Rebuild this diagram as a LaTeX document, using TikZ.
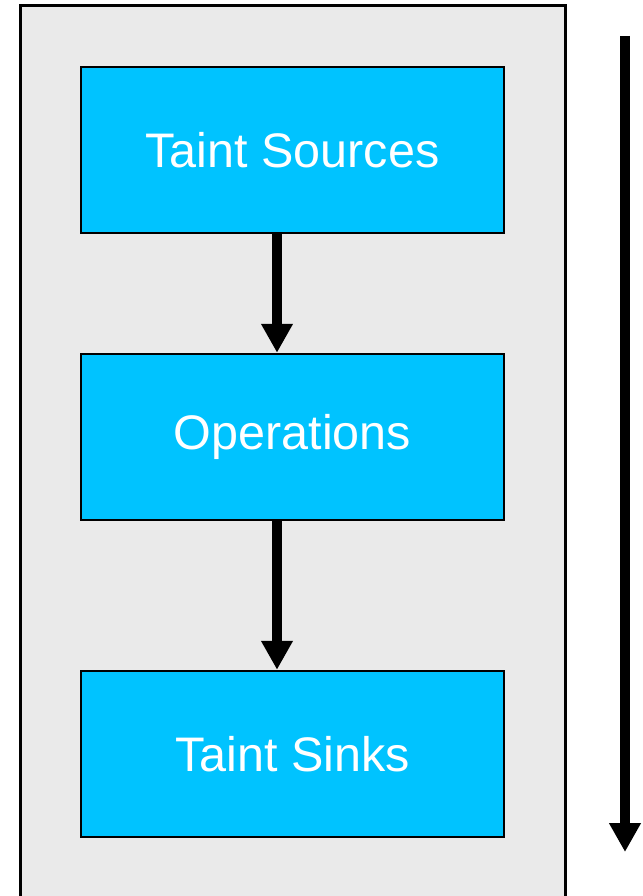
\documentclass[tikz,border=0pt]{standalone}
\usepackage{fontspec}
\setmainfont{Liberation Sans}
\usetikzlibrary{arrows.meta}
\definecolor{panelgrey}{HTML}{EAEAEA}
\definecolor{stageblue}{HTML}{00C3FF}
\newcommand{\stagelabel}[1]{\raisebox{-3pt}{#1}}
\tikzset{
  stagebox/.style={draw=black, line width=2.5pt, fill=stageblue, minimum width=423pt,
    minimum height=166pt, inner sep=0pt, text=white, font=\fontsize{48.5}{58}\selectfont},
  flowarrow/.style={line width=10pt, -{Triangle[width=30pt,length=29pt]}}
}
\begin{document}
\begin{tikzpicture}[x=1pt,y=-1pt]
  \useasboundingbox (0,0) rectangle (642,896);
  % grey panel, open at the bottom
  \begin{scope}
    \clip (0,0) rectangle (642,896);
    \filldraw[fill=panelgrey, draw=black, line width=3pt] (20,902) -- (20,6) -- (565,6) -- (565,902);
  \end{scope}
  % pipeline stages
  \node[stagebox] (src) at (292.5,150) {\stagelabel{Taint Sources}};
  \node[stagebox] (ops) at (292.5,437) {\stagelabel{Operations}};
  \node[stagebox] (snk) at (292.5,754) {\stagelabel{Taint Sinks}};
  \draw[flowarrow] ([xshift=-15.5pt]src.south) -- ([xshift=-15.5pt]ops.north);
  \draw[flowarrow] ([xshift=-15.5pt]ops.south) -- ([xshift=-15.5pt]snk.north);
  % overall direction of flow
  \coordinate (flowtop) at (625,36);
  \coordinate (flowend) at (625,852);
  \draw[flowarrow] (flowtop) -- (flowend);
\end{tikzpicture}
\end{document}
